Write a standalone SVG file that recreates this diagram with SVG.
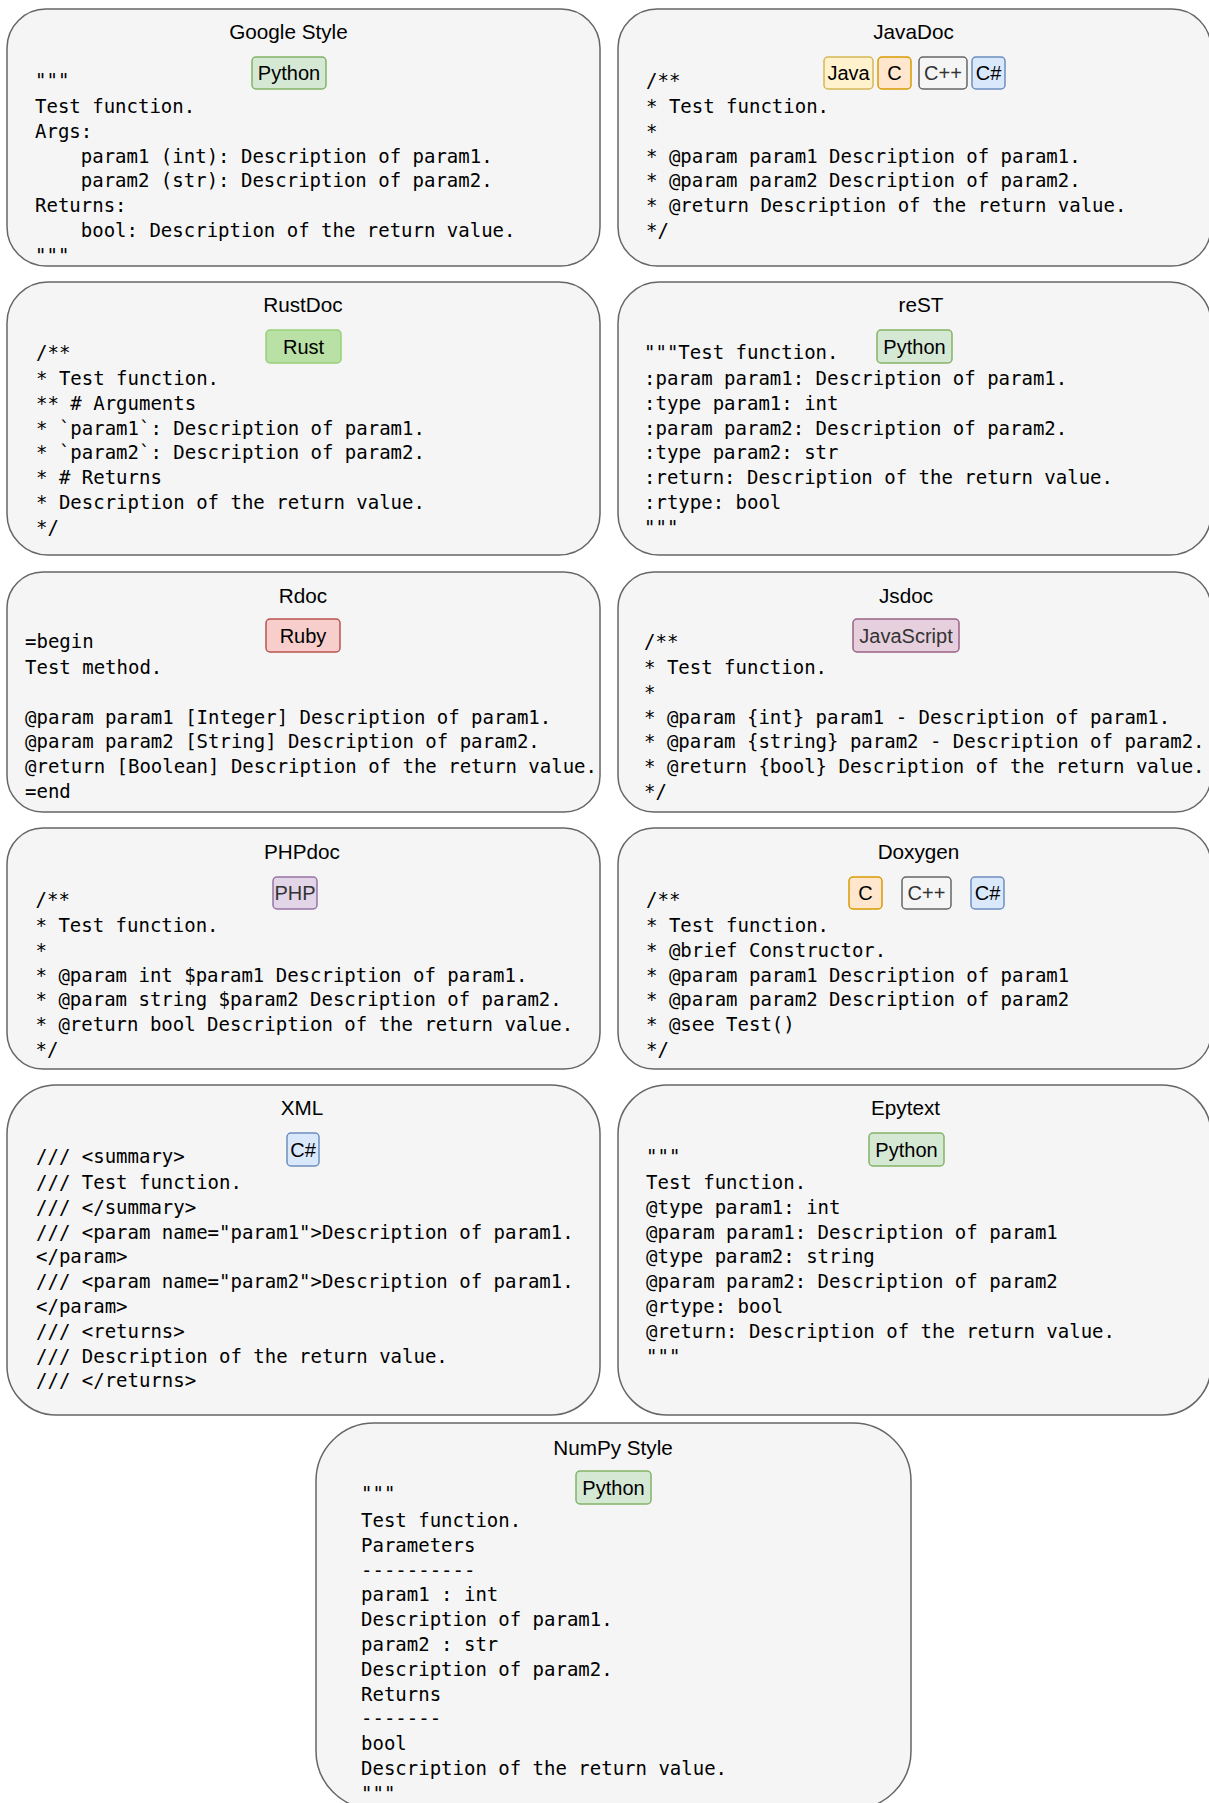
<svg xmlns="http://www.w3.org/2000/svg" width="1209" height="1803" viewBox="0 0 1209 1803">
<style>
.box{fill:#f5f5f5;stroke:#666666;stroke-width:1.5}
.title{font-family:"Liberation Sans",Arial,sans-serif;font-size:20.7px;text-anchor:middle;fill:#000}
.code{font-family:"DejaVu Sans Mono","Liberation Mono",monospace;font-size:19px;fill:#000}
.bt{font-family:"Liberation Sans",Arial,sans-serif;font-size:20px;text-anchor:middle;fill:#000}
.g{fill:#333333}
.py{fill:#d5e8d4;stroke:#82b366;stroke-width:1.5}
.rs{fill:#b9e0a5;stroke:#97d077;stroke-width:1.5}
.rb{fill:#f8cecc;stroke:#b85450;stroke-width:1.5}
.js{fill:#e6d0de;stroke:#996185;stroke-width:1.5}
.php{fill:#e1d5e7;stroke:#9673a6;stroke-width:1.5}
.cs{fill:#dae8fc;stroke:#6c8ebf;stroke-width:1.5}
.c{fill:#ffe6cc;stroke:#d79b00;stroke-width:1.5}
.cpp{fill:#f5f5f5;stroke:#666666;stroke-width:1.5}
.java{fill:#fff2cc;stroke:#d6b656;stroke-width:1.5}
</style>

<g id="google">
<rect class="box" x="7" y="9" width="593" height="257" rx="39"/>
<text class="title" x="288.5" y="39">Google Style</text>
<rect class="py" x="252" y="57" width="74" height="32" rx="4"/>
<text class="bt" x="289" y="80">Python</text>
<text class="code" x="35" y="87">"""</text>
<text class="code" x="35" y="113">Test function.</text>
<text class="code" x="35" y="137.8">Args:</text>
<text class="code" x="80.8" y="162.6">param1 (int): Description of param1.</text>
<text class="code" x="80.8" y="187.4">param2 (str): Description of param2.</text>
<text class="code" x="35" y="212.2">Returns:</text>
<text class="code" x="80.8" y="237">bool: Description of the return value.</text>
<text class="code" x="35" y="261.8">"""</text>
</g>

<g id="javadoc">
<rect class="box" x="618" y="9" width="593" height="257" rx="39"/>
<text class="title" x="913.5" y="39">JavaDoc</text>
<rect class="java" x="824" y="57" width="49" height="32" rx="4"/>
<text class="bt" x="848.5" y="80">Java</text>
<rect class="c" x="878" y="57" width="33" height="32" rx="4"/>
<text class="bt" x="894.5" y="80">C</text>
<rect class="cpp" x="919" y="57" width="48" height="32" rx="4"/>
<text class="bt g" x="943" y="80">C++</text>
<rect class="cs" x="972" y="57" width="33" height="32" rx="4"/>
<text class="bt" x="988.5" y="80">C#</text>
<text class="code" x="646" y="87">/**</text>
<text class="code" x="646" y="113">* Test function.</text>
<text class="code" x="646" y="137.8">*</text>
<text class="code" x="646" y="162.6">* @param param1 Description of param1.</text>
<text class="code" x="646" y="187.4">* @param param2 Description of param2.</text>
<text class="code" x="646" y="212.2">* @return Description of the return value.</text>
<text class="code" x="646" y="237">*/</text>
</g>

<g id="rustdoc">
<rect class="box" x="7" y="282" width="593" height="273" rx="41"/>
<text class="title" x="303" y="312">RustDoc</text>
<rect class="rs" x="266" y="330" width="75" height="33" rx="4"/>
<text class="bt" x="303.5" y="353.5">Rust</text>
<text class="code" x="36" y="359">/**</text>
<text class="code" x="36" y="385">* Test function.</text>
<text class="code" x="36" y="409.8">** # Arguments</text>
<text class="code" x="36" y="434.6">* `param1`: Description of param1.</text>
<text class="code" x="36" y="459.4">* `param2`: Description of param2.</text>
<text class="code" x="36" y="484.2">* # Returns</text>
<text class="code" x="36" y="509">* Description of the return value.</text>
<text class="code" x="36" y="533.8">*/</text>
</g>

<g id="rest">
<rect class="box" x="618" y="282" width="593" height="273" rx="41"/>
<text class="title" x="921" y="312">reST</text>
<rect class="py" x="877" y="330" width="75" height="33" rx="4"/>
<text class="bt" x="914.5" y="353.5">Python</text>
<text class="code" x="644" y="359">"""Test function.</text>
<text class="code" x="644" y="385">:param param1: Description of param1.</text>
<text class="code" x="644" y="409.8">:type param1: int</text>
<text class="code" x="644" y="434.6">:param param2: Description of param2.</text>
<text class="code" x="644" y="459.4">:type param2: str</text>
<text class="code" x="644" y="484.2">:return: Description of the return value.</text>
<text class="code" x="644" y="509">:rtype: bool</text>
<text class="code" x="644" y="533.8">"""</text>
</g>

<g id="rdoc">
<rect class="box" x="7" y="572" width="593" height="240" rx="36"/>
<text class="title" x="303" y="603">Rdoc</text>
<rect class="rb" x="266" y="619" width="74" height="33" rx="4"/>
<text class="bt" x="303" y="642.5">Ruby</text>
<text class="code" x="25" y="648">=begin</text>
<text class="code" x="25" y="674">Test method.</text>
<text class="code" x="25" y="723.6">@param param1 [Integer] Description of param1.</text>
<text class="code" x="25" y="748.4">@param param2 [String] Description of param2.</text>
<text class="code" x="25" y="773.2">@return [Boolean] Description of the return value.</text>
<text class="code" x="25" y="798">=end</text>
</g>

<g id="jsdoc">
<rect class="box" x="618" y="572" width="593" height="240" rx="36"/>
<text class="title" x="906" y="603">Jsdoc</text>
<rect class="js" x="853" y="619" width="106" height="33" rx="4"/>
<text class="bt g" x="906" y="642.5">JavaScript</text>
<text class="code" x="644" y="648">/**</text>
<text class="code" x="644" y="674">* Test function.</text>
<text class="code" x="644" y="698.8">*</text>
<text class="code" x="644" y="723.6">* @param {int} param1 - Description of param1.</text>
<text class="code" x="644" y="748.4">* @param {string} param2 - Description of param2.</text>
<text class="code" x="644" y="773.2">* @return {bool} Description of the return value.</text>
<text class="code" x="644" y="798">*/</text>
</g>

<g id="phpdoc">
<rect class="box" x="7" y="828" width="593" height="241" rx="36"/>
<text class="title" x="302" y="859">PHPdoc</text>
<rect class="php" x="273" y="877" width="44" height="32" rx="4"/>
<text class="bt g" x="295" y="900">PHP</text>
<text class="code" x="35.5" y="906">/**</text>
<text class="code" x="35.5" y="932">* Test function.</text>
<text class="code" x="35.5" y="956.8">*</text>
<text class="code" x="35.5" y="981.6">* @param int $param1 Description of param1.</text>
<text class="code" x="35.5" y="1006.4">* @param string $param2 Description of param2.</text>
<text class="code" x="35.5" y="1031.2">* @return bool Description of the return value.</text>
<text class="code" x="35.5" y="1056">*/</text>
</g>

<g id="doxygen">
<rect class="box" x="618" y="828" width="593" height="241" rx="36"/>
<text class="title" x="918.5" y="859">Doxygen</text>
<rect class="c" x="849" y="877" width="33" height="32" rx="4"/>
<text class="bt" x="865.5" y="900">C</text>
<rect class="cpp" x="902" y="877" width="49" height="32" rx="4"/>
<text class="bt g" x="926.5" y="900">C++</text>
<rect class="cs" x="971" y="877" width="33" height="32" rx="4"/>
<text class="bt" x="987.5" y="900">C#</text>
<text class="code" x="646" y="906">/**</text>
<text class="code" x="646" y="932">* Test function.</text>
<text class="code" x="646" y="956.8">* @brief Constructor.</text>
<text class="code" x="646" y="981.6">* @param param1 Description of param1</text>
<text class="code" x="646" y="1006.4">* @param param2 Description of param2</text>
<text class="code" x="646" y="1031.2">* @see Test()</text>
<text class="code" x="646" y="1056">*/</text>
</g>

<g id="xml">
<rect class="box" x="7" y="1085" width="593" height="330" rx="49"/>
<text class="title" x="302" y="1115">XML</text>
<rect class="cs" x="287" y="1133" width="32" height="33" rx="4"/>
<text class="bt" x="303" y="1156.5">C#</text>
<text class="code" x="36" y="1163">/// &lt;summary&gt;</text>
<text class="code" x="36" y="1189">/// Test function.</text>
<text class="code" x="36" y="1213.8">/// &lt;/summary&gt;</text>
<text class="code" x="36" y="1238.6">/// &lt;param name="param1"&gt;Description of param1.</text>
<text class="code" x="36" y="1263.4">&lt;/param&gt;</text>
<text class="code" x="36" y="1288.2">/// &lt;param name="param2"&gt;Description of param1.</text>
<text class="code" x="36" y="1313">&lt;/param&gt;</text>
<text class="code" x="36" y="1337.8">/// &lt;returns&gt;</text>
<text class="code" x="36" y="1362.6">/// Description of the return value.</text>
<text class="code" x="36" y="1387.4">/// &lt;/returns&gt;</text>
</g>

<g id="epytext">
<rect class="box" x="618" y="1085" width="593" height="330" rx="49"/>
<text class="title" x="905.5" y="1115">Epytext</text>
<rect class="py" x="869" y="1133" width="75" height="33" rx="4"/>
<text class="bt" x="906.5" y="1156.5">Python</text>
<text class="code" x="646" y="1163">"""</text>
<text class="code" x="646" y="1189">Test function.</text>
<text class="code" x="646" y="1213.8">@type param1: int</text>
<text class="code" x="646" y="1238.6">@param param1: Description of param1</text>
<text class="code" x="646" y="1263.4">@type param2: string</text>
<text class="code" x="646" y="1288.2">@param param2: Description of param2</text>
<text class="code" x="646" y="1313">@rtype: bool</text>
<text class="code" x="646" y="1337.8">@return: Description of the return value.</text>
<text class="code" x="646" y="1362.6">"""</text>
</g>

<g id="numpy">
<rect class="box" x="316" y="1423" width="595" height="386" rx="58"/>
<text class="title" x="613" y="1455">NumPy Style</text>
<rect class="py" x="576" y="1471" width="75" height="33" rx="4"/>
<text class="bt" x="613.5" y="1494.5">Python</text>
<text class="code" x="361" y="1500">"""</text>
<text class="code" x="361" y="1527">Test function.</text>
<text class="code" x="361" y="1551.8">Parameters</text>
<text class="code" x="361" y="1576.6">----------</text>
<text class="code" x="361" y="1601.4">param1 : int</text>
<text class="code" x="361" y="1626.2">Description of param1.</text>
<text class="code" x="361" y="1651">param2 : str</text>
<text class="code" x="361" y="1675.8">Description of param2.</text>
<text class="code" x="361" y="1700.6">Returns</text>
<text class="code" x="361" y="1725.4">-------</text>
<text class="code" x="361" y="1750.2">bool</text>
<text class="code" x="361" y="1775">Description of the return value.</text>
<text class="code" x="361" y="1799.8">"""</text>
</g>
</svg>
